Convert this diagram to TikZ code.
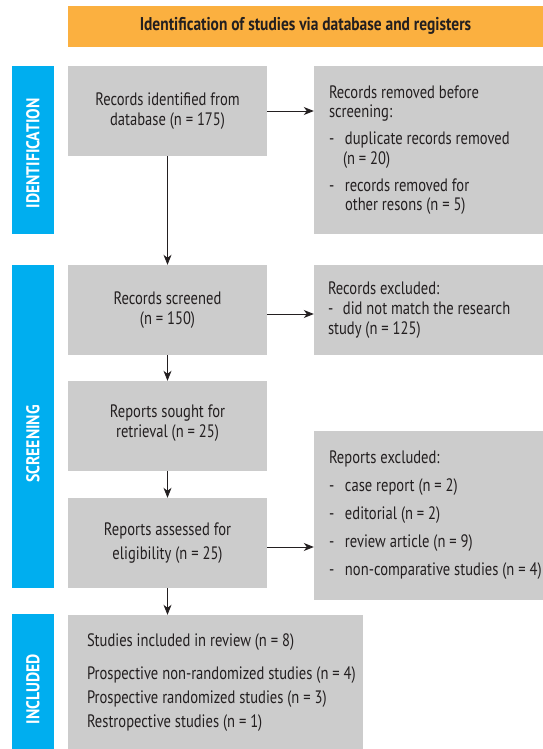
\documentclass[tikz,border=0pt]{standalone}
\usepackage{fontspec}
\setmainfont{PT Sans}[FakeStretch=0.81]
\newfontfamily\sidefont{PT Sans}[FakeStretch=0.85]
\newfontfamily\titlefont{PT Sans}[FakeStretch=0.835]
\usetikzlibrary{arrows.meta,calc}
\definecolor{orangebar}{HTML}{FBB040}
\definecolor{bluebar}{HTML}{00AEEF}
\definecolor{boxgray}{HTML}{CCCCCC}
\definecolor{ink}{HTML}{231F20}
\begin{document}
\begin{tikzpicture}[x=1pt,y=-1pt,
  graybox/.style={fill=boxgray, draw=none, inner sep=0pt},
  bluebox/.style={fill=bluebar, draw=none, inner sep=0pt, minimum width=42pt},
  txt/.style={inner sep=0pt, text=ink, font=\fontsize{18}{20}\selectfont},
  sidetxt/.style={inner sep=0pt, text=white, rotate=90, font=\sidefont\bfseries\fontsize{18.5}{20}\selectfont},
  arr/.style={draw=ink, line width=0.9pt, -{Stealth[length=10pt,width=8pt,inset=3pt]}}
]
\useasboundingbox (0,0) rectangle (543,749);

% title bar
\node[fill=orangebar, inner sep=0pt, minimum width=475pt, minimum height=40.7pt,
      text=ink, font=\titlefont\bfseries\fontsize{18.5}{20}\selectfont] (title) at (305.5,26.35)
  {Identification of studies via database and registers};

% side bars
\node[bluebox, minimum height=168pt] (idbar) at (33,150) {};
\node[bluebox, minimum height=323pt] (scrbar) at (33,426.5) {};
\node[bluebox, minimum height=135pt] (incbar) at (33,681.5) {};
\node[sidetxt] (idlab) at (33,153.5) {IDENTIFICATION};
\node[sidetxt] (scrlab) at (33,444) {SCREENING};
\node[sidetxt] (inclab) at (33,689) {INCLUDED};

% boxes
\node[graybox, minimum width=199pt, minimum height=90pt] (ident) at (167.5,111) {};
\node[graybox, minimum width=229pt, minimum height=168pt] (removed) at (428.5,150) {};
\node[graybox, minimum width=199pt, minimum height=90pt] (screened) at (167.5,310) {};
\node[graybox, minimum width=229pt, minimum height=90pt] (excluded) at (428.5,310) {};
\node[graybox, minimum width=199pt, minimum height=90pt] (sought) at (167.5,426) {};
\node[graybox, minimum width=199pt, minimum height=90pt] (assessed) at (167.5,543) {};
\node[graybox, minimum width=229pt, minimum height=169pt] (repexcl) at (428.5,515.5) {};
\node[graybox, minimum width=295pt, minimum height=134pt] (included) at (215.5,682) {};

% texts
\node[txt, align=center] (identtxt) at (ident) {Records identified from\\database (n = 175)};
\node[txt, align=left, anchor=west, font=\fontsize{18}{19.5}\selectfont] (removedtxt) at ([xshift=15pt]removed.west)
  {Records removed before\\screening:\\[7.5pt]
   \makebox[16pt][l]{-}duplicate records removed\\
   \hspace*{14pt}(n = 20)\\[7.5pt]
   \makebox[16pt][l]{-}records removed for\\
   \hspace*{16pt}other resons (n = 5)};
\node[txt, align=center] (screenedtxt) at (screened) {Records screened\\(n = 150)};
\node[txt, align=left, anchor=west] (excludedtxt) at ([xshift=14pt]excluded.west)
  {Records excluded:\\\makebox[15pt][l]{-}did not match the research\\study (n = 125)};
\node[txt, align=center] (soughttxt) at ([yshift=3pt]sought) {Reports sought for\\retrieval (n = 25)};
\node[txt, align=center, font=\fontsize{18}{23.5}\selectfont] (assessedtxt) at (assessed) {Reports assessed for\\eligibility (n = 25)};
\node[txt, align=left, anchor=west, font=\fontsize{18}{28}\selectfont] (repexcltxt) at ([xshift=15pt]repexcl.west)
  {Reports excluded:\\
   \makebox[16pt][l]{-}case report (n = 2)\\
   \makebox[16pt][l]{-}editorial (n = 2)\\
   \makebox[16pt][l]{-}review article (n = 9)\\
   \makebox[16pt][l]{-}non-comparative studies (n = 4)};
\node[txt, align=left, anchor=west, font=\fontsize{18}{24}\selectfont] (includedtxt) at ([xshift=19pt,yshift=-1pt]included.west)
  {Studies included in review (n = 8)\\[9pt]
   Prospective non-randomized studies (n = 4)\\
   Prospective randomized studies (n = 3)\\
   Restropective studies (n = 1)};

% connectors
\draw[arr] (ident.east) -- (ident.east -| removed.west);
\draw[arr] ([yshift=-4pt]screened.east) -- ([yshift=-4pt]screened.east -| excluded.west);
\draw[arr] ([yshift=-4pt]assessed.east) -- ([yshift=-4pt]assessed.east -| repexcl.west);
\draw[arr] (ident.south) -- (screened.north);
\draw[arr] (screened.south) -- (sought.north);
\draw[arr] (sought.south) -- (assessed.north);
\draw[arr] (assessed.south) -- (assessed.south |- included.north);
\end{tikzpicture}
\end{document}
